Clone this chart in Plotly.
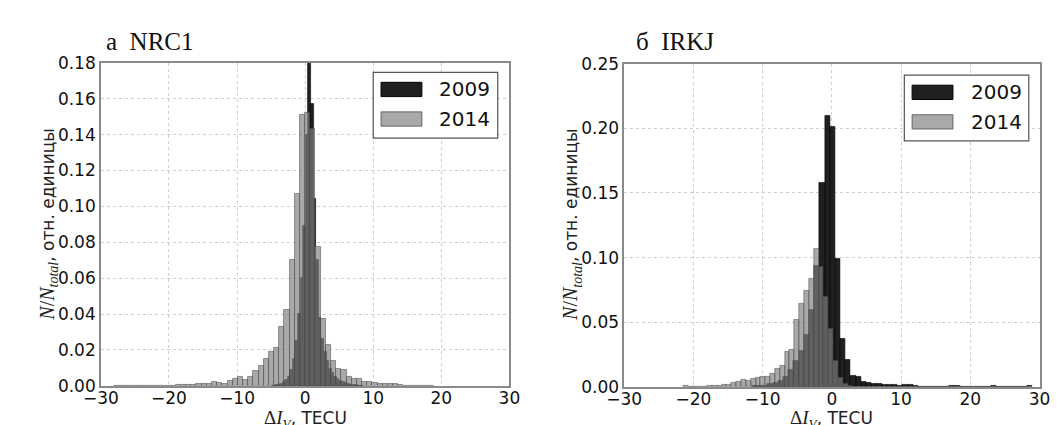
import plotly.graph_objects as go

# ---------------- data ----------------
# NRC1 (panel a)
nrc1_2009_first_edge = 0.46 - 14 * 0.38
nrc1_2009_bin = 0.38
nrc1_2009 = [0.0003, 0.0005, 0.0008, 0.0013, 0.002, 0.0035, 0.005, 0.009, 0.015, 0.025,
             0.04, 0.06, 0.089, 0.14, 0.20, 0.157, 0.104, 0.07, 0.038, 0.026,
             0.019, 0.014, 0.0095, 0.007, 0.005, 0.0038, 0.0028, 0.002, 0.0015, 0.0011,
             0.0008, 0.0006, 0.0004, 0.0003, 0.0002]

nrc1_2014_first_edge = -0.78 - 36 * 0.76
nrc1_2014_bin = 0.76
nrc1_2014 = [0, 0, 0.0003, 0, 0, 0, 0.0003, 0.0003, 0, 0.0003,
             0.0003, 0.0003, 0.0004, 0.0006, 0.0007, 0.0008, 0.0012, 0.0013, 0.0012, 0.0022,
             0.0016, 0.0012, 0.0028, 0.0042, 0.0050, 0.0035, 0.0053, 0.0082, 0.011, 0.0152,
             0.019, 0.021, 0.033, 0.0425, 0.0705, 0.107, 0.151, 0.152, 0.143, 0.0775,
             0.0375, 0.023, 0.0142, 0.0093, 0.0088, 0.005, 0.004, 0.0037, 0.0023, 0.002,
             0.0018, 0.0014, 0.0014, 0.0012, 0.0009, 0.0004, 0.0003, 0.0003, 0.0003, 0.0002,
             0.0003, 0.0002]

# IRKJ (panel b)
irkj_2009_first_edge = -1.03 - 14 * 0.75
irkj_2009_bin = 0.75
irkj_2009 = [0.0005, 0.0008, 0.001, 0.002, 0.003, 0.005, 0.008, 0.013, 0.02, 0.028,
             0.04, 0.06, 0.094, 0.158, 0.21, 0.201, 0.099, 0.037, 0.021, 0.0088,
             0.008, 0.004, 0.0032, 0.0027, 0.0022, 0.0017, 0.0015, 0.0015, 0.0012, 0.0015,
             0.0015, 0.0005, 0.0003, 0.0003, 0.0002, 0.0002, 0.0002, 0.0003, 0.001, 0.0005,
             0, 0, 0, 0, 0, 0, 0.0005, 0, 0, 0,
             0, 0, 0, 0.0005]

irkj_2014_first_edge = -2.6 - 27 * 0.7
irkj_2014_bin = 0.7
irkj_2014 = [0.0005, 0, 0.0003, 0.0003, 0.0004, 0.0005, 0.0008, 0.0012, 0.0015, 0.0015,
             0.0032, 0.004, 0.0056, 0.005, 0.0064, 0.007, 0.0076, 0.008, 0.01, 0.0138,
             0.016, 0.027, 0.0285, 0.052, 0.064, 0.074, 0.084, 0.107, 0.093, 0.07,
             0.045, 0.02, 0.007, 0.002, 0.001]

years = ["2009", "2014"]
panel_titles = ["а  NRC1", "б  IRKJ"]
xticks = [-30, -20, -10, 0, 10, 20, 30]
yticks_a = [0.00, 0.02, 0.04, 0.06, 0.08, 0.10, 0.12, 0.14, 0.16, 0.18]
yticks_b = [0.00, 0.05, 0.10, 0.15, 0.20, 0.25]


def centers(first_edge, width, values):
    return [first_edge + width * (i + 0.5) for i in range(len(values))]


W, H = 1061, 425
# pixel boxes of the two plot areas
boxes = [(77, 497, 47, 386), (615, 1042, 48, 387)]

BLACK = "rgba(20,20,20,0.95)"
GRAY = "rgba(128,128,128,0.68)"

fig = go.Figure()

panels = [
    (nrc1_2009_first_edge, nrc1_2009_bin, nrc1_2009,
     nrc1_2014_first_edge, nrc1_2014_bin, nrc1_2014, "x", "y"),
    (irkj_2009_first_edge, irkj_2009_bin, irkj_2009,
     irkj_2014_first_edge, irkj_2014_bin, irkj_2014, "x2", "y2"),
]

for (e9, w9, v9, e14, w14, v14, xa, ya) in panels:
    fig.add_trace(go.Bar(x=centers(e9, w9, v9), y=v9, width=w9, name=years[0],
                         marker=dict(color=BLACK, line=dict(color="black", width=0.6)),
                         xaxis=xa, yaxis=ya, showlegend=False))
    fig.add_trace(go.Bar(x=centers(e14, w14, v14), y=v14, width=w14, name=years[1],
                         marker=dict(color=GRAY, line=dict(color="rgba(70,70,70,0.75)", width=0.7)),
                         xaxis=xa, yaxis=ya, showlegend=False))

tickfont = dict(family="DejaVu Sans", size=17, color="#111")
axis_common = dict(showline=True, linecolor="#8a8a8a", linewidth=1.5, mirror=True,
                   showgrid=True, gridcolor="#cfcfcf", griddash="dot", gridwidth=1,
                   zeroline=False, ticks="", tickfont=tickfont)

for i, (x0, x1, y0, y1) in enumerate(boxes):
    xd = [x0 / W, x1 / W]
    yd = [1 - y1 / H, 1 - y0 / H]
    sx = "" if i == 0 else "2"
    yt = yticks_a if i == 0 else yticks_b
    fig.layout["xaxis" + sx] = dict(domain=xd, range=[-30, 30], tickvals=xticks,
                                    anchor="y" + sx, ticklabelstandoff=-4, **axis_common)
    fig.layout["yaxis" + sx] = dict(domain=yd, range=[yt[0], yt[-1]], tickvals=yt,
                                    tickformat=".2f", anchor="x" + sx, **axis_common)

annotations = []
shapes = []
serif = "Liberation Serif"
ylabel = ("<span style=\"font-family:'Liberation Serif';font-size:20px\"><i>N</i>/<i>N</i><sub><i>total</i></sub></span>"
          ", отн. единицы")
xlabel = ("<span style=\"font-family:'Liberation Serif';font-size:19px\">Δ<i>I</i><sub><i>V</i></sub></span>, TECU")

title_x = [80, 625]
ylabel_x = [23, 561]
for i, (x0, x1, y0, y1) in enumerate(boxes):
    annotations.append(dict(text=panel_titles[i], x=title_x[i] / W, y=1 - 25 / H, xref="paper", yref="paper",
                            xanchor="left", yanchor="middle", showarrow=False,
                            font=dict(family=serif, size=25, color="#111")))
    annotations.append(dict(text=ylabel, x=ylabel_x[i] / W, y=1 - ((y0 + y1) / 2) / H, xref="paper",
                            yref="paper", textangle=-90, showarrow=False, xanchor="center", yanchor="middle",
                            font=dict(family="DejaVu Sans", size=17, color="#222")))
    annotations.append(dict(text=xlabel, x=((x0 + x1) / 2) / W, y=1 - 421 / H, xref="paper", yref="paper",
                            showarrow=False, xanchor="center", yanchor="middle",
                            font=dict(family="DejaVu Sans", size=17, color="#222")))

# legend boxes (pixel positions of the frames)
legend_boxes = [(357, 485, 57, 126), (903, 1031, 60, 129)]
for (lx0, lx1, ly0, ly1) in legend_boxes:
    shapes.append(dict(type="rect", xref="paper", yref="paper", x0=lx0 / W, x1=lx1 / W,
                       y0=1 - ly1 / H, y1=1 - ly0 / H, line=dict(color="#555", width=1.2),
                       fillcolor="white", layer="above"))
    pad = 8
    for j, (col, lc) in enumerate([(BLACK, "black"), (GRAY, "rgba(70,70,70,0.75)")]):
        cy = ly0 + 18 + j * 31
        shapes.append(dict(type="rect", xref="paper", yref="paper",
                           x0=(lx0 + pad) / W, x1=(lx0 + pad + 42) / W,
                           y0=1 - (cy + 7.5) / H, y1=1 - (cy - 7.5) / H,
                           fillcolor=col, line=dict(color=lc, width=1), layer="above"))
        annotations.append(dict(text=years[j], x=(lx0 + 66) / W, y=1 - cy / H, xref="paper", yref="paper",
                                xanchor="left", yanchor="middle", showarrow=False,
                                font=dict(family="DejaVu Sans", size=20, color="#111")))

fig.update_layout(width=W, height=H, margin=dict(l=0, r=0, t=0, b=0),
                  paper_bgcolor="white", plot_bgcolor="white", barmode="overlay",
                  bargap=0, annotations=annotations, shapes=shapes, showlegend=False)

fig.write_html("out.html")
